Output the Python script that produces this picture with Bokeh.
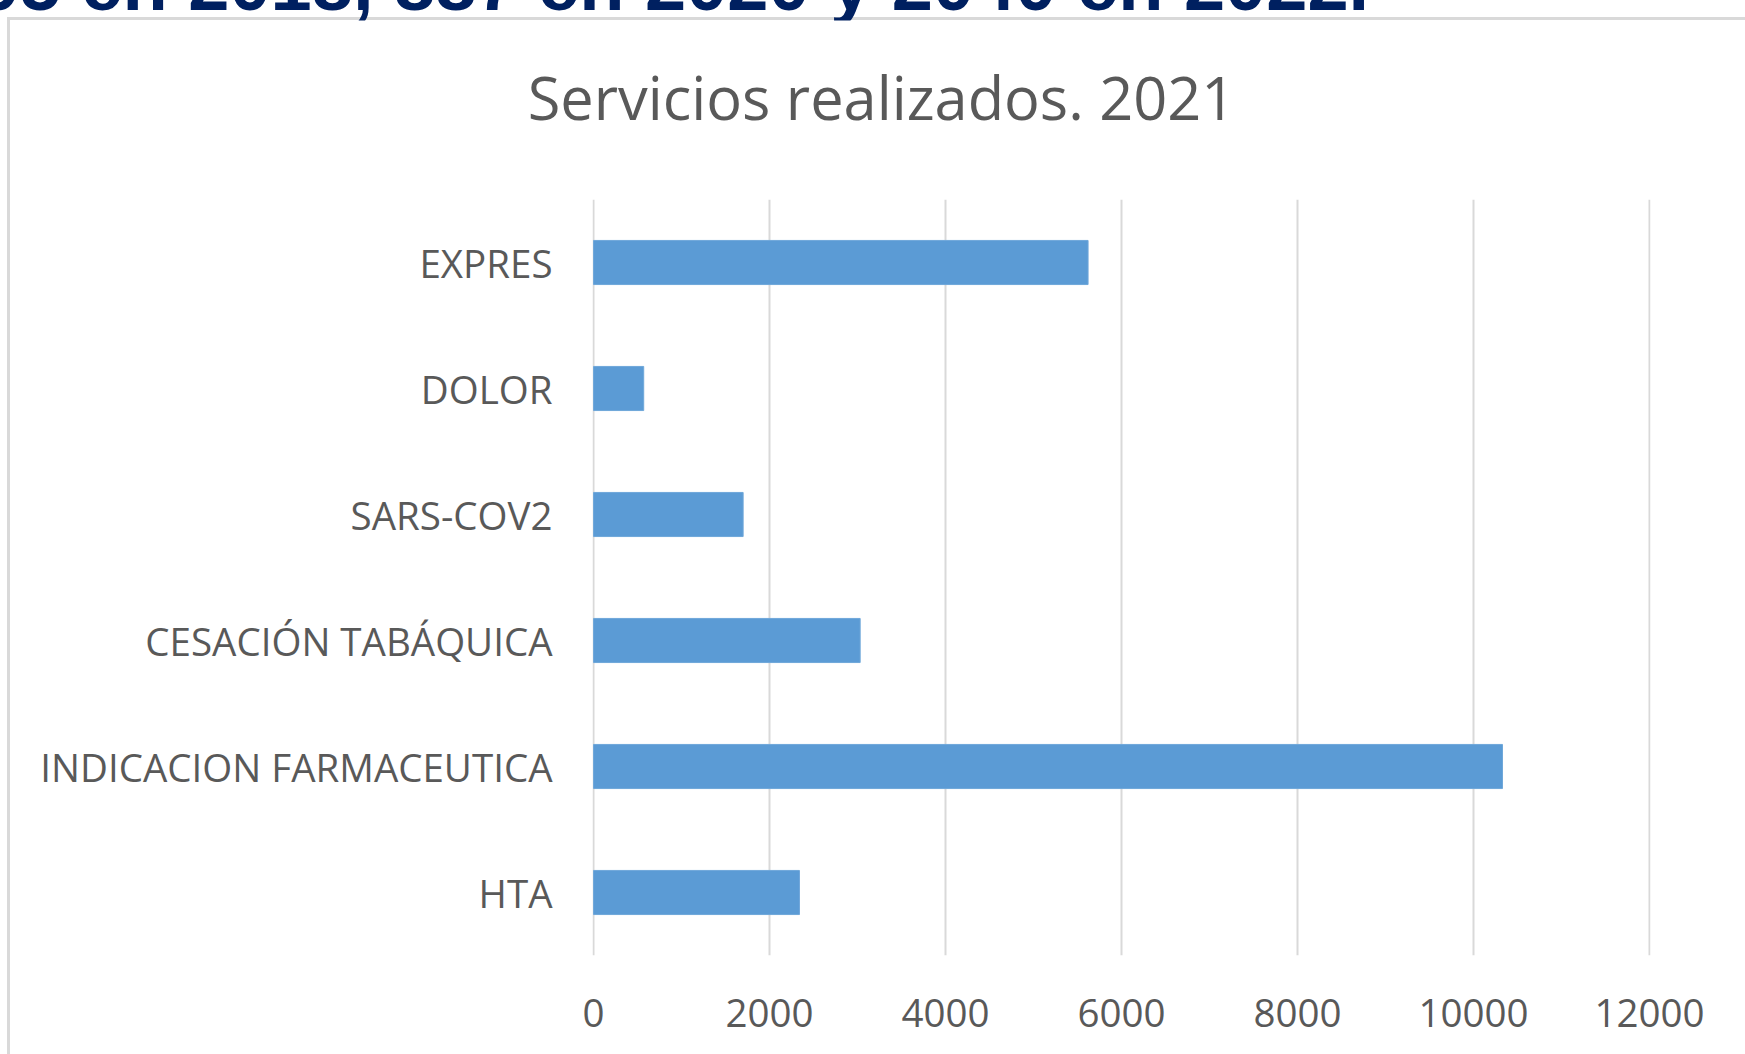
from bokeh.plotting import figure
from bokeh.models import FactorRange, Range1d, Label, FixedTicker
from bokeh.embed import file_html
from bokeh.resources import INLINE

# ---- data ----
categories = ["EXPRES", "DOLOR", "SARS-COV2", "CESACIÓN TABÁQUICA",
              "INDICACION FARMACEUTICA", "HTA"]
values = [5620, 570, 1700, 3030, 10330, 2340]
x_ticks = [0, 2000, 4000, 6000, 8000, 10000, 12000]
title_text = "Servicios realizados. 2021"
header_text = "95 en 2018, 887 en 2020 y 2040 en 2022."

# ---- layout ----
W, H = 1745, 1054
FL, FR, FT, FB = 592, 1650, 199, 955
GRAY = "#595959"

p = figure(width=W, height=H,
           y_range=FactorRange(factors=list(reversed(categories))),
           x_range=Range1d(-12, 12012),
           output_backend="svg", toolbar_location=None,
           min_border_left=FL, min_border_right=W - FR,
           min_border_top=FT, min_border_bottom=H - FB)
p.background_fill_color = "white"
p.border_fill_color = None
p.outline_line_color = None
p.styles = {
    "background-color": "white",
    "background-image": "linear-gradient(#d9d9d9, #d9d9d9), linear-gradient(#d9d9d9, #d9d9d9)",
    "background-size": "3px 2000px, 2000px 3px",
    "background-position": "7px 17px, 7px 17px",
    "background-repeat": "no-repeat",
}

p.hbar(y=categories, left=0, right=values, height=0.35,
       fill_color="#5b9bd5", line_color="#6fa7da", line_width=1)

p.xaxis.ticker = FixedTicker(ticks=x_ticks)
p.xgrid.ticker = FixedTicker(ticks=x_ticks)
for ax in (p.xaxis[0], p.yaxis[0]):
    ax.axis_line_color = None
    ax.major_tick_line_color = None
    ax.minor_tick_line_color = None
    ax.major_tick_out = 0
    ax.major_tick_in = 0
    ax.major_label_text_font = "Open Sans"
    ax.major_label_text_font_size = "38.5px"
    ax.major_label_text_color = GRAY
p.xaxis.major_label_standoff = 43
p.yaxis.major_label_standoff = 40

p.xgrid.grid_line_color = "#d9d9d9"
p.xgrid.grid_line_width = 2
p.ygrid.grid_line_color = None

# clipped slide text above the chart (closest panel to the frame)
p.add_layout(Label(x=-22 - FL, y=215, x_units="screen", y_units="screen",
                   text=header_text, text_align="left", text_baseline="alphabetic",
                   text_font="Liberation Sans", text_font_style="bold",
                   text_font_size="74px", text_color="#002060"), "above")

# chart title (its white box hides the slide text below the chart's top edge)
p.add_layout(Label(x=881 - FL, y=38, x_units="screen", y_units="screen",
                   text=title_text, text_align="center", text_baseline="middle",
                   text_font="Open Sans", text_font_size="59.5px",
                   text_color=GRAY,
                   background_fill_color="white",
                   padding=dict(left=510, right=510, top=35, bottom=0)), "above")

open("out.html", "w").write(file_html(p, INLINE))
